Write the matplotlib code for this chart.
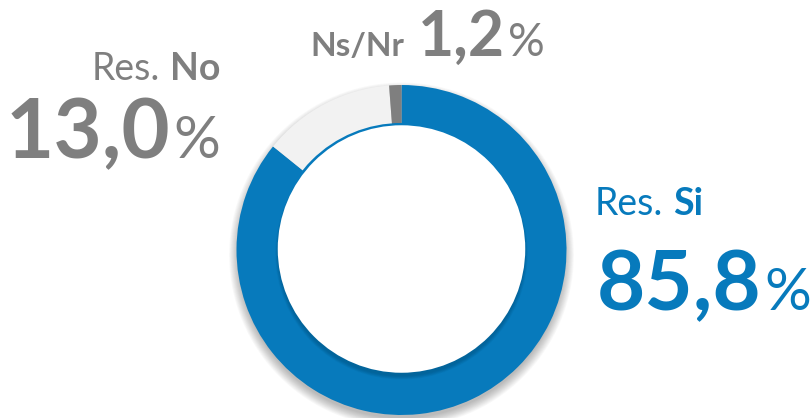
import matplotlib
matplotlib.use('Agg')
import matplotlib.pyplot as plt
from matplotlib.patches import Circle

# datos
labels = ['Res. Si', 'Res. No', 'Ns/Nr']
values = [85.8, 13.0, 1.2]
value_txt = ['85,8', '13,0', '1,2']
colors = ['#077ABC', '#F2F2F2', '#7F7F7F']

BLUE = '#077ABC'
GRAY = '#7F7F7F'
FONT = 'Lato'

W, H = 812, 418
fig = plt.figure(figsize=(W / 100, H / 100), dpi=100)

# anillo: centro y radio en pixeles
cx, cy, r = 401.5, 250, 165
ax = fig.add_axes([(cx - r) / W, (H - cy - r) / H, 2 * r / W, 2 * r / H])

# sombra exterior
for i in range(12):
    ax.add_patch(Circle((0, -0.03), 0.99 + 0.005 * i, color='k', alpha=0.022,
                        lw=0, zorder=0, clip_on=False))

ax.pie(values, colors=colors, startangle=90, counterclock=False, radius=1,
       wedgeprops=dict(width=0.25, edgecolor='none', linewidth=0))

# circulo interior con sombra
ax.add_patch(Circle((0, 0), 0.77, color=BLUE, lw=0, zorder=3))
for i in range(6):
    ax.add_patch(Circle((0, -0.02), 0.745 + 0.004 * i, color='#02385a', alpha=0.06,
                        lw=0, zorder=4))
ax.add_patch(Circle((0, 0.006), 0.75, color='white', lw=0, zorder=5))

ax.set_xlim(-1, 1)
ax.set_ylim(-1, 1)
ax.set_aspect('equal')
ax.axis('off')

renderer = fig.canvas.get_renderer()


def run(parts, x, y, ha='left'):
    """ textos con distinto estilo en una misma linea (coords en pixeles) """
    arts = []
    for s, size, weight, color, gap in parts:
        t = fig.text(0, 0, s, fontsize=size, fontweight=weight, color=color,
                     family=FONT, va='baseline', ha='left')
        arts.append((t, gap))
    widths = [t.get_window_extent(renderer).width + gap for t, gap in arts]
    x0 = x - sum(widths) if ha == 'right' else x
    for (t, gap), w in zip(arts, widths):
        t.set_position((x0 / W, 1 - y / H))
        x0 += w


# Ns/Nr
run([(labels[2], 24, 'bold', GRAY, 14),
     (value_txt[2], 45, 'bold', GRAY, 3),
     ('%', 33, 'normal', GRAY, 0)], 310, 56)

# Res. No
run([('Res.', 27, 'normal', GRAY, 10),
     ('No', 27, 'bold', GRAY, 0)], 220, 80, ha='right')
run([(value_txt[1], 60, 'bold', GRAY, 3),
     ('%', 42, 'normal', GRAY, 0)], 220, 158, ha='right')

# Res. Si
run([('Res.', 27, 'normal', BLUE, 10),
     ('Si', 27, 'bold', BLUE, 0)], 595, 215)
run([(value_txt[0], 60, 'bold', BLUE, 3),
     ('%', 42, 'normal', BLUE, 0)], 597, 310)

fig.savefig('out.png', dpi=100)
